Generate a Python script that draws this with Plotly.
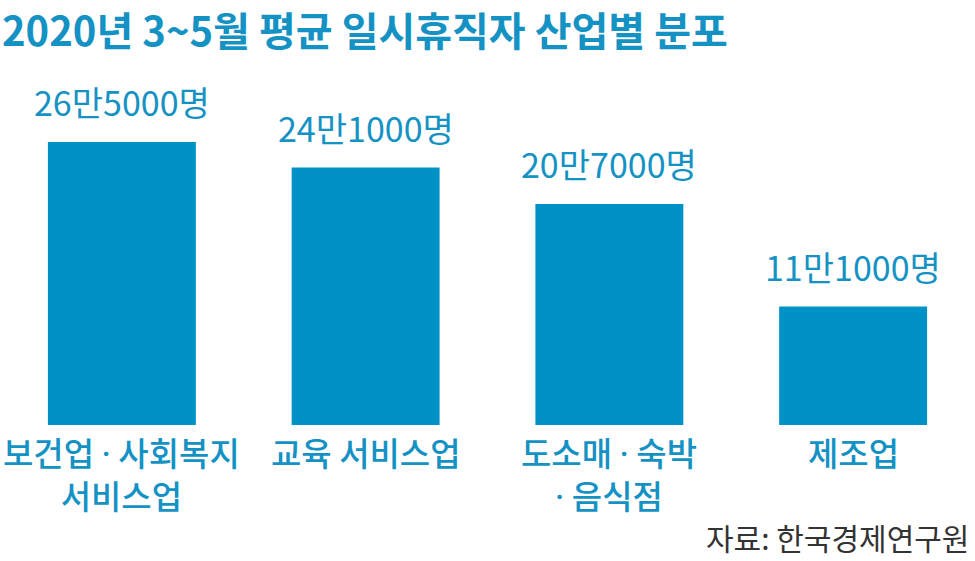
import plotly.graph_objects as go

DOT = "<span style='font-family:Roboto'>·</span>"
categories = ["보건업 " + DOT + " 사회복지<br>서비스업", "교육 서비스업",
              "도소매 " + DOT + " 숙박<br>" + DOT + " 음식점", "제조업"]
values = [265, 241, 207, 111]  # 천명
value_labels = ["26만5000명", "24만1000명", "20만7000명", "11만1000명"]

BAR = "#0092C6"
TXT = "#1592C4"
FONT = "Noto Sans CJK KR"

x_idx = list(range(len(categories)))

fig = go.Figure()
fig.add_trace(go.Bar(x=x_idx, y=values, width=0.607, marker=dict(color=BAR, line=dict(width=0)),
                     hoverinfo="skip"))

annotations = []
for i, (v, lab) in enumerate(zip(values, value_labels)):
    annotations.append(dict(x=i, y=v, xref="x", yref="y", text=lab, showarrow=False,
                            yanchor="middle", xanchor="center", yshift=40,
                            font=dict(family=FONT, size=34, color=TXT)))
    annotations.append(dict(x=i, y=0, xref="x", yref="y", text=categories[i], showarrow=False,
                            yanchor="top", xanchor="center", yshift=-1,
                            font=dict(family=FONT, size=33, color=TXT, weight=500)))

annotations.append(dict(x=0, y=1, xref="paper", yref="paper", xanchor="left", yanchor="top",
                        text="<b>2020년 3~5월 평균 일시휴직자 산업별 분포</b>", showarrow=False,
                        xshift=0, yshift=2,
                        font=dict(family=FONT, size=40, color=TXT)))
annotations.append(dict(x=1, y=0, xref="paper", yref="paper", xanchor="right", yanchor="bottom",
                        text="자료: 한국경제연구원", showarrow=False, xshift=-4, yshift=0,
                        font=dict(family=FONT, size=30, color="#333333")))

fig.update_layout(
    width=975, height=561,
    margin=dict(l=0, r=0, t=0, b=0),
    paper_bgcolor="white", plot_bgcolor="white",
    showlegend=False,
    xaxis=dict(range=[-0.5, 3.5], visible=False, fixedrange=True),
    yaxis=dict(range=[-127.3, 397.9], visible=False, fixedrange=True),
    annotations=annotations,
)

fig.write_html("out.html", config={"displayModeBar": False},
               post_script="document.body.style.margin='0';document.body.style.padding='0';")
